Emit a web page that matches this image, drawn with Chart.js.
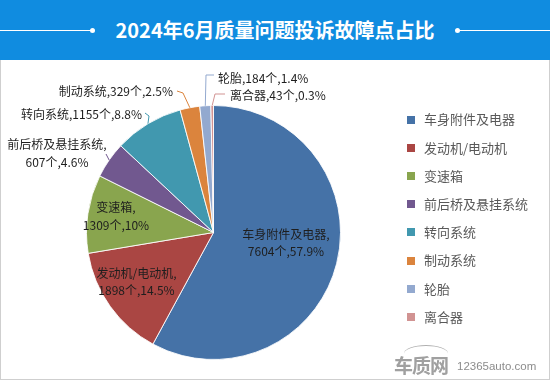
<!DOCTYPE html>
<html><head><meta charset="utf-8">
<script src="https://cdn.jsdelivr.net/npm/chart.js@4/dist/chart.umd.min.js"></script>
<style>
html,body{margin:0;padding:0;background:#fff;}
#wrap{position:relative;width:550px;height:380px;overflow:hidden;font-family:"Noto Sans CJK SC","Microsoft YaHei",sans-serif;}
#bar{position:absolute;left:0;top:0;width:550px;height:60px;background:#108ce0;}
#title{position:absolute;left:0;top:0;width:550px;height:60px;line-height:60px;text-align:center;color:#fff;font-weight:bold;font-size:20px;}
.ln{position:absolute;top:30px;height:1px;background:#fff;}
.dot{position:absolute;top:28px;width:5px;height:5px;border-radius:50%;background:#fff;}
#box{position:absolute;left:0;top:60px;width:550px;height:320px;box-sizing:border-box;border:1px solid #cfcfcf;border-top:none;}
#cv{position:absolute;left:0;top:60px;}
#wm1{position:absolute;left:394px;top:354px;font-size:19px;font-weight:bold;color:#a0a0a0;letter-spacing:-1px;line-height:22px;}
#wm2{position:absolute;left:457px;top:359px;font-size:11.5px;color:#8c8c8c;font-family:Arial,"Liberation Sans",sans-serif;line-height:14px;}
#arc{position:absolute;left:404px;top:345px;width:44px;height:16px;border-top:1.5px solid #b0b0b0;border-radius:50% 50% 0 0;}
</style></head>
<body>
<div id="wrap">
  <div id="bar"></div>
  <div class="ln" style="left:0;width:92px;"></div>
  <div class="dot" style="left:90px;"></div>
  <div class="ln" style="left:457px;width:93px;"></div>
  <div class="dot" style="left:455px;"></div>
  <div id="title">2024年6月质量问题投诉故障点占比</div>
  <div id="box"></div>
  <canvas id="cv" width="550" height="320"></canvas>
  <div id="arc"></div>
  <div id="wm1">车质网</div>
  <div id="wm2">12365auto.com</div>
</div>
<script>
const categories = ['车身附件及电器','发动机/电动机','变速箱','前后桥及悬挂系统','转向系统','制动系统','轮胎','离合器'];
const counts = [7604,1898,1309,607,1155,329,184,43];
const percentLabels = ['57.9%','14.5%','10%','4.6%','8.8%','2.5%','1.4%','0.3%'];
const colors = ['#4572A7','#AA4643','#89A54E','#71588F','#4198AF','#DB843D','#93A9CF','#D19392'];

// label placement (offsets from pie centre, px) — style only
const labelPlacement = [
  {dx:72.5, dy:10.5, align:'center', two:true},
  {dx:-77, dy:49.5, align:'center', two:true},
  {dx:-97.5, dy:-16, align:'center', two:true},
  {dx:-156.5, dy:-79, align:'center', two:true, leader:[[-107.5,-78.5]]},
  {dx:-71.5, dy:-118.5, align:'right', leader:[[-68.5,-119.5],[-64.5,-116.5]]},
  {dx:-40.5, dy:-141.5, align:'right', leader:[[-36.5,-141.5],[-30.5,-139.5]]},
  {dx:4.5, dy:-154.5, align:'left', leader:[[0.5,-157.5],[-7.5,-157.5]]},
  {dx:16.5, dy:-137.5, align:'left', leader:[[11.5,-138.5],[1.5,-138.5]]}
];
const FONT = '"Noto Sans CJK SC","Microsoft YaHei",sans-serif';

const labelPlugin = {
  id:'pieLabels',
  afterDatasetsDraw(chart){
    const ctx = chart.ctx;
    const meta = chart.getDatasetMeta(0);
    ctx.save();
    meta.data.forEach((arc,i)=>{
      const p = labelPlacement[i];
      const cx = arc.x, cy = arc.y, R = arc.outerRadius;
      const mid = (arc.startAngle+arc.endAngle)/2;
      const ex = cx + Math.cos(mid)*R, ey = cy + Math.sin(mid)*R;
      if (p.leader){
        ctx.strokeStyle = colors[i];
        ctx.lineWidth = 1;
        ctx.beginPath();
        ctx.moveTo(cx+p.leader[0][0], cy+p.leader[0][1]);
        for (let k=1;k<p.leader.length;k++) ctx.lineTo(cx+p.leader[k][0], cy+p.leader[k][1]);
        ctx.lineTo(ex, ey);
        ctx.stroke();
      }
      ctx.fillStyle = '#1e1e1e';
      ctx.font = '12px ' + FONT;
      ctx.textBaseline = 'middle';
      ctx.textAlign = p.align;
      const x = cx + p.dx, y = cy + p.dy;
      const val = counts[i] + '个,' + percentLabels[i];
      if (p.two){
        ctx.fillText(categories[i] + ',', x, y - 8.75);
        ctx.fillText(val, x, y + 8.75);
      } else {
        ctx.fillText(categories[i] + ',' + val, x, y);
      }
    });
    // legend
    ctx.font = '13px ' + FONT;
    ctx.textAlign = 'left';
    ctx.textBaseline = 'middle';
    categories.forEach((c,i)=>{
      const y = 59.5 + i*28.2;
      ctx.fillStyle = colors[i];
      ctx.fillRect(407, Math.round(y-4), 8, 8);
      ctx.fillStyle = '#595959';
      ctx.fillText(c, 424, y);
    });
    ctx.restore();
  }
};

new Chart(document.getElementById('cv'), {
  type:'pie',
  data:{
    labels: categories,
    datasets:[{
      data: counts,
      backgroundColor: colors,
      borderColor: 'rgba(255,255,255,0.85)',
      borderWidth: 1,
      hoverOffset: 0,
      radius: 127
    }]
  },
  options:{
    responsive:false,
    animation:false,
    devicePixelRatio:1,
    layout:{padding:{left:86.5, right:209.5, top:45.5, bottom:20.5}},
    plugins:{legend:{display:false}, tooltip:{enabled:false}, title:{display:false}}
  },
  plugins:[labelPlugin]
});
</script>
</body></html>
